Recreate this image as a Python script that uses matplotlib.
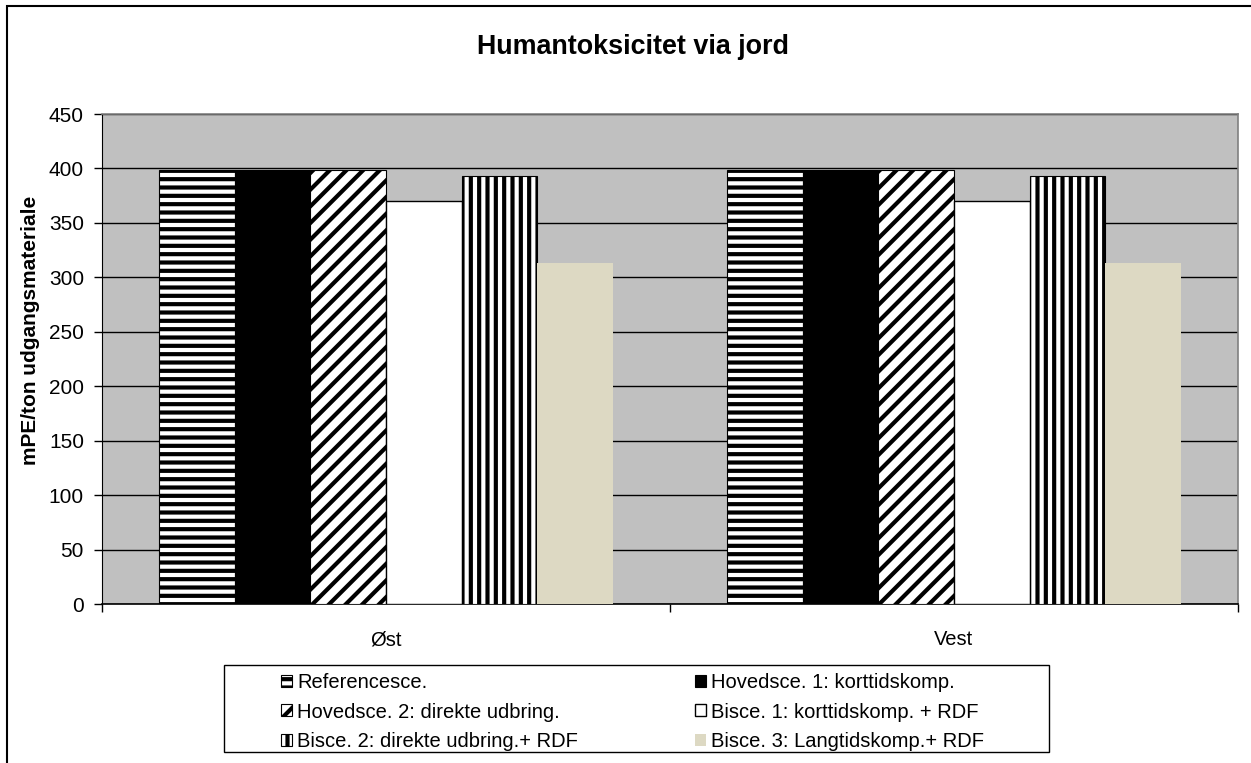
import matplotlib
matplotlib.use("Agg")
import matplotlib.pyplot as plt
import numpy as np
from matplotlib.patches import Rectangle

plt.rcParams['font.family'] = ['Liberation Sans', 'DejaVu Sans']
plt.rcParams['hatch.linewidth'] = 3.0
plt.rcParams['hatch.color'] = 'black'

title = "Humantoksicitet via jord"
ylabel = "mPE/ton udgangsmateriale"
categories = ["Øst", "Vest"]
series_names = [
    "Referencesce.",
    "Hovedsce. 1: korttidskomp.",
    "Hovedsce. 2: direkte udbring.",
    "Bisce. 1: korttidskomp. + RDF",
    "Bisce. 2: direkte udbring.+ RDF",
    "Bisce. 3: Langtidskomp.+ RDF",
]
ref_vals = [399, 399]
hov1_vals = [399, 399]
hov2_vals = [399, 399]
bis1_vals = [370, 370]
bis2_vals = [393, 393]
bis3_vals = [313, 313]
values = [ref_vals, hov1_vals, hov2_vals, bis1_vals, bis2_vals, bis3_vals]
yticks = [0, 50, 100, 150, 200, 250, 300, 350, 400, 450]

styles = [
    dict(facecolor='white', edgecolor='black', hatch='--', lw=0.8),
    dict(facecolor='black', edgecolor='black', hatch=None, lw=0.8),
    dict(facecolor='white', edgecolor='black', hatch='//', lw=0.8),
    dict(facecolor='white', edgecolor='black', hatch=None, lw=1.0),
    dict(facecolor='white', edgecolor='black', hatch='||', lw=0.8),
    dict(facecolor='#DDD9C3', edgecolor='none', hatch=None, lw=0),
]

W, H = 1251, 763
fig = plt.figure(figsize=(W / 100, H / 100), dpi=100)
ax = fig.add_axes([102 / W, 1 - 604 / H, (1238 - 102) / W, (604 - 114) / H])
ax.set_facecolor('#C0C0C0')

x = np.arange(len(categories))
n = len(series_names)
group = 0.8
bw = group / n
handles = []
for i, (name, vals, st) in enumerate(zip(series_names, values, styles)):
    bars = ax.bar(x - group / 2 + bw * (i + 0.5), vals, width=bw,
                  facecolor=st['facecolor'], edgecolor=st['edgecolor'],
                  hatch=st['hatch'], linewidth=st['lw'], label=name, zorder=3)
    handles.append(bars)

ax.set_xlim(-0.5, len(categories) - 0.5)
ax.set_ylim(0, 450)
ax.set_yticks(yticks)
ax.set_yticklabels([str(t) for t in yticks], fontsize=15)
ax.yaxis.grid(True, color='black', linewidth=1.0, zorder=1)
ax.set_axisbelow(True)

ax.set_xticks(x)
ax.set_xticklabels(categories, fontsize=14.5)
ax.tick_params(axis='x', length=0, pad=19)
ax.tick_params(axis='y', length=6, width=1, direction='out', pad=7)
ax.set_xticks([-0.5, 0.5, 1.5], minor=True)
ax.tick_params(axis='x', which='minor', length=6, width=1, direction='out')

for s in ['top', 'right']:
    ax.spines[s].set_color('#808080')
    ax.spines[s].set_linewidth(1.2)
ax.spines['left'].set_color('black')
ax.spines['bottom'].set_color('black')
ax.spines['bottom'].set_linewidth(1.2)

ax.set_ylabel(ylabel, fontsize=15, fontweight='bold')
ax.yaxis.set_label_coords((40 - 102) / 1136, (604 - 330) / 490)
fig.text(633 / W, 1 - 47 / H, title, ha='center', va='center', fontsize=19.4, fontweight='bold')

# outer border
fig.patches.append(Rectangle((7 / W, -0.05), 1.2, 1 - 6 / H + 0.05, transform=fig.transFigure,
                             fill=False, edgecolor='black', linewidth=1.5))

# legend frame
fig.patches.append(Rectangle((224 / W, 1 - 752 / H), (1049 - 224) / W, (752 - 665) / H,
                             transform=fig.transFigure, fill=False, edgecolor='black', linewidth=1.0))

order = [0, 2, 4, 1, 3, 5]
leg = fig.legend([handles[i] for i in order], [series_names[i] for i in order],
                 loc='center left', bbox_to_anchor=(271 / W, 1 - 712 / H),
                 ncol=2, frameon=False, fontsize=14.5, handlelength=0.55, handleheight=0.55,
                 handletextpad=0.25, labelspacing=0.52, columnspacing=5.8, borderpad=0)

fig.savefig('out.png', dpi=100)
